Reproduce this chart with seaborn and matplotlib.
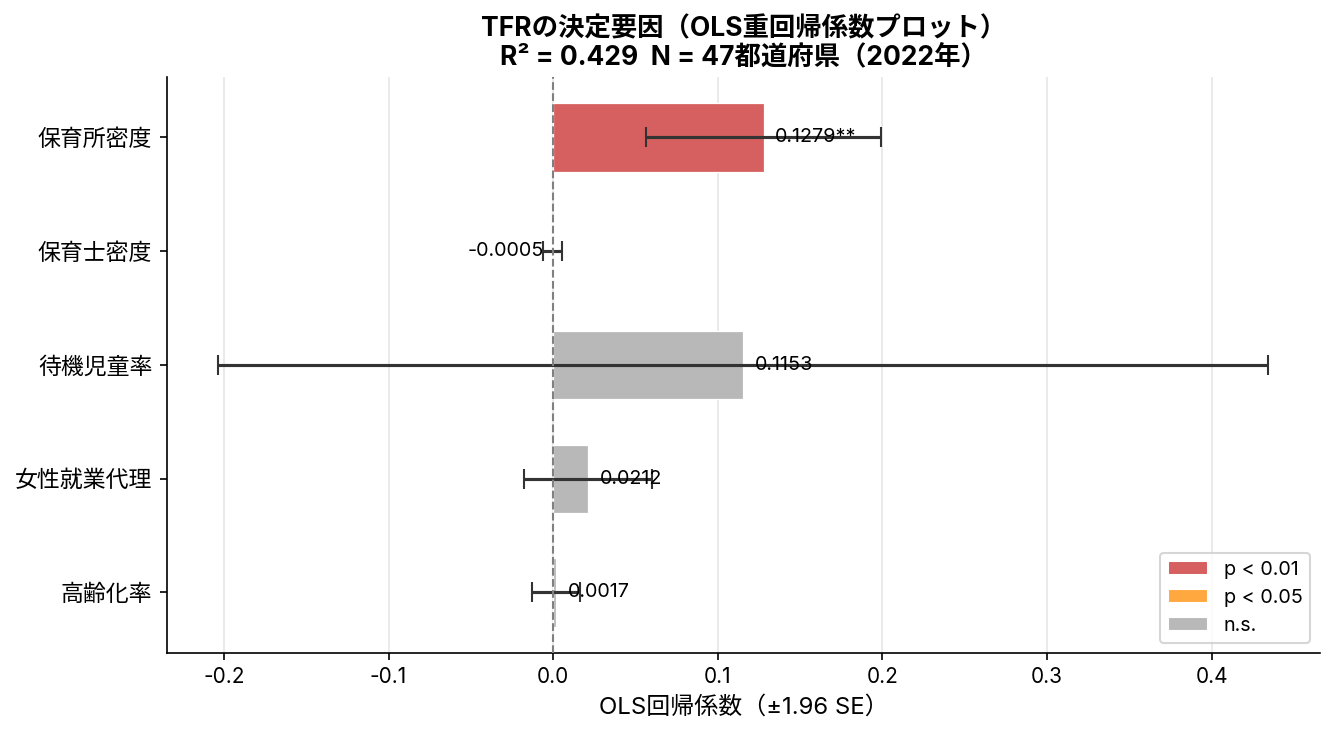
import numpy as np
import pandas as pd
import matplotlib
matplotlib.use("Agg")
import matplotlib.pyplot as plt
from matplotlib.patches import Patch
import seaborn as sns

#   data
variables = ["保育所密度", "保育士密度", "待機児童率", "女性就業代理", "高齢化率"]
coefs = [0.1279, -0.0005, 0.1153, 0.0212, 0.0017]
ci_half = [0.0715, 0.0058, 0.3190, 0.0387, 0.0146]   # 1.96 * SE
stars = ["**", "", "", "", ""]
sig = ["p < 0.01", "n.s.", "n.s.", "n.s.", "n.s."]

sig_levels = ["p < 0.01", "p < 0.05", "n.s."]
sig_colors = {"p < 0.01": "#d65f5f", "p < 0.05": "#ffa83f", "n.s.": "#b8b8b8"}

df = pd.DataFrame({"var": variables, "coef": coefs, "ci": ci_half,
                   "sig": sig, "star": stars})

#   plot
sns.set_style("ticks")
plt.rcParams["font.family"] = ["Inter", "Noto Sans CJK JP", "DejaVu Sans"]
for key in ["text.color", "axes.labelcolor", "xtick.color", "ytick.color", "axes.edgecolor"]:
    plt.rcParams[key] = "black"

fig, ax = plt.subplots(figsize=(8.9, 4.9), dpi=150)
fig.subplots_adjust(left=0.125, right=0.989, top=0.895, bottom=0.112)

ax.grid(axis="x", color="#e6e6e6", linewidth=0.8, zorder=0)
ax.set_axisbelow(True)

sns.barplot(data=df, x="coef", y="var", hue="var",
            palette=[sig_colors[s] for s in df["sig"]], saturation=1,
            width=0.6, edgecolor="white", linewidth=0.6,
            legend=False, ax=ax, zorder=2)

ypos = np.arange(len(df))
ax.errorbar(df["coef"], ypos, xerr=df["ci"], fmt="none",
            ecolor="#333333", elinewidth=1.5, capsize=5, capthick=1.0, zorder=3)

ax.axvline(0, color="gray", linestyle="--", linewidth=1.0, zorder=4)

for y, (c, s) in enumerate(zip(df["coef"], df["star"])):
    if c >= 0:
        ax.text(c + 0.007, y, f"{c:.4f}{s}", va="center", ha="left", fontsize=9.5, zorder=5)
    else:
        ax.text(c - 0.005, y, f"{c:.4f}{s}", va="center", ha="right", fontsize=9.5, zorder=5)

ax.set_xlim(-0.2347, 0.466)
ax.set_xticks([-0.2, -0.1, 0.0, 0.1, 0.2, 0.3, 0.4])
ax.set_xticklabels(["-0.2", "-0.1", "0.0", "0.1", "0.2", "0.3", "0.4"])
ax.tick_params(axis="x", labelsize=10)
ax.tick_params(axis="y", labelsize=11)
ax.set_xlabel("OLS回帰係数（±1.96 SE）", fontsize=11.5)
ax.set_ylabel("")
ax.set_title("TFRの決定要因（OLS重回帰係数プロット）\nR² = 0.429  N = 47都道府県（2022年）",
             fontsize=12.7, fontweight="bold", linespacing=1.1)

handles = [Patch(facecolor=sig_colors[s], label=s) for s in sig_levels]
ax.legend(handles=handles, loc="lower right", fontsize=9.5, frameon=True)

sns.despine(ax=ax)
fig.savefig("out.png", dpi=150)
